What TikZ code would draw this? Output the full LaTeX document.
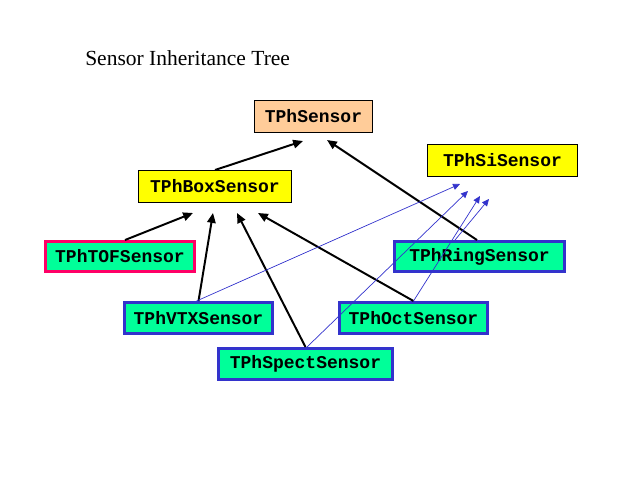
\documentclass[tikz,border=0pt]{standalone}
\usepackage{fontspec}
\setmainfont{Liberation Serif}
\setmonofont{Liberation Mono}
\usetikzlibrary{arrows.meta}

\begin{document}
\begin{tikzpicture}[x=0.025cm, y=-0.025cm]

  % --- Farben ---
  \definecolor{peach}{HTML}{FFCC99}
  \definecolor{yel}{HTML}{FFFF00}
  \definecolor{mint}{HTML}{00FF99}
  \definecolor{rim}{HTML}{FF0066}
  \definecolor{navy}{HTML}{3333CC}

  % --- Stile ---
  \tikzset{
    cls/.style={draw=black, line width=0.7pt, minimum height=0.8cm,
      inner sep=0pt, font=\fontsize{12.8}{14}\selectfont\ttfamily\bfseries},
    leaf/.style={cls, draw=navy, fill=mint, line width=2.1pt, minimum height=0.75cm},
    inherit/.style={line width=1.4pt, -{Triangle[length=7pt,width=6pt]}},
    also/.style={navy, line width=0.5pt, -{Triangle[length=5pt,width=4.5pt]}}
  }

  \useasboundingbox (0,0) rectangle (640,480);

  % --- Titel ---
  \node[anchor=base west, inner sep=0pt, font=\fontsize{15.3}{18}\selectfont] (title) at (85,65) {Sensor Inheritance Tree};

  % --- Klassen ---
  \node[cls, fill=peach, minimum width=2.95cm]  (sensor) at (313.5,116.5) {TPhSensor};
  \node[cls, fill=yel, minimum width=3.825cm]   (box)    at (215,186.5)   {TPhBoxSensor};
  \node[cls, fill=yel, minimum width=3.75cm]    (si)     at (502.5,160.5) {TPhSiSensor};
  \node[leaf, draw=rim, minimum width=3.725cm]  (tof)    at (120,256.5)   {TPhTOFSensor};
  \node[leaf, minimum width=4.25cm]             (ring)   at (479.5,256.5) {TPhRingSensor};
  \node[leaf, minimum width=3.7cm, minimum height=0.775cm]  (vtx)  at (198.5,318) {TPhVTXSensor};
  \node[leaf, minimum width=3.7cm, minimum height=0.775cm]  (oct)  at (413.5,318) {TPhOctSensor};
  \node[leaf, minimum width=4.35cm, minimum height=0.775cm] (spect) at (305.5,364) {TPhSpectSensor};

  % --- Vererbung (schwarz) ---
  \draw[inherit] (box.north) -- ([shift={(-10.5,8)}]sensor.south);
  \draw[inherit] ([shift={(-2.5,0)}]ring.north) -- ([shift={(13.5,7)}]sensor.south);
  \draw[inherit] ([shift={(5,0)}]tof.north) -- ([shift={(-22,10)}]box.south);
  \draw[inherit] (vtx.north) -- ([shift={(-2,10)}]box.south);
  \draw[inherit] (spect.north) -- ([shift={(22,10)}]box.south);
  \draw[inherit] (oct.north) -- ([shift={(43,10)}]box.south);

  % --- Vererbung von TPhSiSensor (blau) ---
  \draw[also] ([shift={(-2,0)}]vtx.north) -- ([shift={(-42.5,7)}]si.south);
  \draw[also] ([shift={(1.5,0)}]spect.north) -- ([shift={(-34.5,14)}]si.south);
  \draw[also] (oct.north) -- ([shift={(-22.5,19)}]si.south);
  \draw[also] ([shift={(-24.5,0)}]ring.north) -- ([shift={(-13.5,22)}]si.south);

\end{tikzpicture}
\end{document}
